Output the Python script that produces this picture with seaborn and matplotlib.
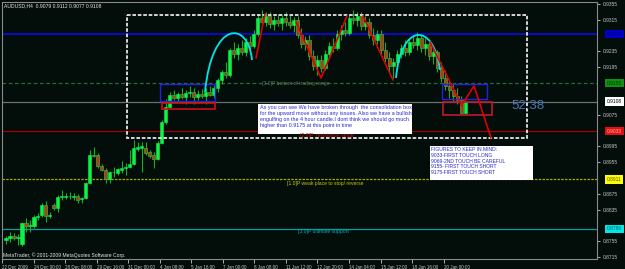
import matplotlib
matplotlib.use("Agg")
import matplotlib.pyplot as plt
import matplotlib.transforms as mtransforms
from matplotlib.patches import Rectangle, PathPatch
from matplotlib.path import Path
from matplotlib.lines import Line2D
import numpy as np
import pandas as pd
import seaborn as sns

# ---------------- data (AUDUSD H4) ----------------
opens = [0.8758, 0.8763, 0.8768, 0.8763, 0.8748, 0.8801, 0.8793, 0.8793, 0.8816, 0.8821,
         0.8847, 0.8819, 0.8847, 0.8839, 0.8867, 0.8867, 0.8869, 0.8867, 0.8869, 0.8862,
         0.8864, 0.8902, 0.8973, 0.8973, 0.8945, 0.8935, 0.8912, 0.8930, 0.8927, 0.8935,
         0.8940, 0.8943, 0.8950, 0.8988, 0.8991, 0.8991, 0.8981, 0.8973, 0.8963, 0.9003,
         0.9056, 0.9094, 0.9125, 0.9117, 0.9127, 0.9120, 0.9130, 0.9132, 0.9120, 0.9127,
         0.9122, 0.9132, 0.9125, 0.9142, 0.9163, 0.9183, 0.9175, 0.9239, 0.9229, 0.9244,
         0.9234, 0.9259, 0.9249, 0.9279, 0.9320, 0.9309, 0.9325, 0.9304, 0.9315, 0.9307,
         0.9320, 0.9309, 0.9302, 0.9315, 0.9277, 0.9254, 0.9264, 0.9223, 0.9198, 0.9213,
         0.9193, 0.9229, 0.9249, 0.9244, 0.9279, 0.9289, 0.9282, 0.9320, 0.9315, 0.9325,
         0.9299, 0.9309, 0.9277, 0.9264, 0.9279, 0.9239, 0.9218, 0.9198, 0.9208, 0.9229,
         0.9244, 0.9234, 0.9259, 0.9251, 0.9269, 0.9244, 0.9254, 0.9223, 0.9234, 0.9193,
         0.9168, 0.9148, 0.9137, 0.9122, 0.9112, 0.9079]
highs = [0.8768, 0.8778, 0.8776, 0.8773, 0.8803, 0.8814, 0.8809, 0.8821, 0.8826, 0.8852,
         0.8857, 0.8829, 0.8852, 0.8872, 0.8884, 0.8877, 0.8879, 0.8877, 0.8874, 0.8867,
         0.8905, 0.8986, 0.8993, 0.8978, 0.8950, 0.8940, 0.8933, 0.8943, 0.8940, 0.8958,
         0.8953, 0.8986, 0.9011, 0.9006, 0.9006, 0.9006, 0.8986, 0.8981, 0.9008, 0.9062,
         0.9115, 0.9132, 0.9137, 0.9132, 0.9142, 0.9137, 0.9148, 0.9142, 0.9137, 0.9140,
         0.9142, 0.9148, 0.9150, 0.9168, 0.9188, 0.9208, 0.9244, 0.9259, 0.9254, 0.9264,
         0.9269, 0.9274, 0.9289, 0.9330, 0.9340, 0.9335, 0.9335, 0.9325, 0.9330, 0.9327,
         0.9335, 0.9330, 0.9322, 0.9325, 0.9294, 0.9274, 0.9277, 0.9239, 0.9226, 0.9226,
         0.9239, 0.9259, 0.9269, 0.9289, 0.9302, 0.9309, 0.9327, 0.9340, 0.9335, 0.9335,
         0.9325, 0.9320, 0.9294, 0.9289, 0.9289, 0.9259, 0.9234, 0.9218, 0.9239, 0.9254,
         0.9264, 0.9269, 0.9277, 0.9284, 0.9279, 0.9269, 0.9264, 0.9244, 0.9239, 0.9208,
         0.9188, 0.9163, 0.9153, 0.9142, 0.9122, 0.9112]
lows = [0.8748, 0.8753, 0.8758, 0.8745, 0.8743, 0.8778, 0.8778, 0.8788, 0.8809, 0.8816,
        0.8803, 0.8814, 0.8834, 0.8829, 0.8859, 0.8862, 0.8862, 0.8859, 0.8852, 0.8852,
        0.8862, 0.8900, 0.8968, 0.8940, 0.8933, 0.8902, 0.8902, 0.8917, 0.8922, 0.8927,
        0.8922, 0.8940, 0.8948, 0.8983, 0.8930, 0.8973, 0.8965, 0.8940, 0.8960, 0.9001,
        0.9051, 0.9092, 0.9112, 0.9107, 0.9115, 0.9102, 0.9120, 0.9102, 0.9112, 0.9117,
        0.9102, 0.9122, 0.9117, 0.9132, 0.9153, 0.9168, 0.9170, 0.9218, 0.9213, 0.9226,
        0.9223, 0.9239, 0.9244, 0.9274, 0.9302, 0.9299, 0.9294, 0.9289, 0.9299, 0.9289,
        0.9299, 0.9294, 0.9284, 0.9269, 0.9244, 0.9239, 0.9213, 0.9188, 0.9175, 0.9183,
        0.9188, 0.9218, 0.9234, 0.9239, 0.9264, 0.9274, 0.9277, 0.9304, 0.9299, 0.9289,
        0.9289, 0.9269, 0.9251, 0.9254, 0.9226, 0.9208, 0.9183, 0.9168, 0.9201, 0.9218,
        0.9223, 0.9226, 0.9244, 0.9239, 0.9234, 0.9226, 0.9213, 0.9203, 0.9183, 0.9158,
        0.9137, 0.9117, 0.9107, 0.9102, 0.9077, 0.9077]
closes = [0.8763, 0.8768, 0.8763, 0.8766, 0.8801, 0.8793, 0.8796, 0.8816, 0.8819, 0.8847,
          0.8819, 0.8821, 0.8839, 0.8867, 0.8869, 0.8869, 0.8870, 0.8869, 0.8859, 0.8864,
          0.8902, 0.8973, 0.8970, 0.8945, 0.8935, 0.8912, 0.8930, 0.8931, 0.8938, 0.8940,
          0.8943, 0.8950, 0.8991, 0.8993, 0.8996, 0.8978, 0.8970, 0.8963, 0.9003, 0.9056,
          0.9094, 0.9125, 0.9117, 0.9127, 0.9120, 0.9130, 0.9132, 0.9120, 0.9127, 0.9122,
          0.9132, 0.9125, 0.9142, 0.9163, 0.9183, 0.9175, 0.9239, 0.9229, 0.9244, 0.9234,
          0.9259, 0.9249, 0.9279, 0.9320, 0.9309, 0.9325, 0.9304, 0.9315, 0.9307, 0.9320,
          0.9309, 0.9302, 0.9315, 0.9277, 0.9254, 0.9264, 0.9223, 0.9198, 0.9213, 0.9193,
          0.9229, 0.9249, 0.9244, 0.9279, 0.9289, 0.9282, 0.9320, 0.9315, 0.9325, 0.9299,
          0.9309, 0.9277, 0.9264, 0.9279, 0.9239, 0.9218, 0.9198, 0.9208, 0.9229, 0.9244,
          0.9234, 0.9259, 0.9251, 0.9269, 0.9244, 0.9254, 0.9223, 0.9234, 0.9193, 0.9168,
          0.9148, 0.9137, 0.9122, 0.9112, 0.9080, 0.9108]

date_labels = ["22 Dec 2009", "24 Dec 00:00", "28 Dec 08:00", "29 Dec 16:00", "31 Dec 00:00",
               "4 Jan 08:00", "5 Jan 16:00", "7 Jan 00:00", "8 Jan 08:00", "11 Jan 12:00",
               "12 Jan 20:00", "14 Jan 04:00", "15 Jan 12:00", "18 Jan 16:00", "20 Jan 00:00"]
date_tick_bars = [-1.0, 6.9, 14.8, 22.7, 30.6, 38.5, 46.4, 54.3, 62.2, 70.1,
                  78.0, 85.9, 93.8, 101.7, 109.6]

# scale labels that are not covered by a level label
price_ticks = [0.9355, 0.9315, 0.9235, 0.9195, 0.9075,
               0.8995, 0.8955, 0.8875, 0.8835, 0.8755, 0.8715]

level_prices = [0.9279, 0.9155, 0.9108, 0.9033, 0.8911, 0.8786]
level_labels = ["0.9279", "0.9155", "0.9108", "0.9033", "0.8911", "0.8786"]
level_line_colors = ["#0a0ad8", "#1e6e3c", "#6e6e6e", "#a80000", "#a8a800", "#00a0a0"]
level_line_styles = ["-", (0, (3, 2)), "-", "-", (0, (2, 1)), "-"]
level_box_colors = ["#0000c8", "#129012", "#ffffff", "#e01010", "#ffff00", "#00e8e8"]
level_text_colors = ["#000070", "#063806", "#000000", "#ffb0b0", "#505000", "#006060"]

note_text = ("As you can see We have broken through  the consolidation box\n"
             "for the upward move without any issues. Also we have a bullish\n"
             "engulfing on the 4 hour candle.I dont think we should go much\n"
             "higher than 0.9175 at this point in time")
figures_text = ("FIGURES TO KEEP IN MIND:\n9033-FIRST TOUCH LONG\n9069-2ND TOUCH BE CAREFUL\n"
                "9155- FIRST TOUCH SHORT\n9175-FIRST TOUCH SHORT")

# ---------------- style ----------------
BG = "#030d0a"
sns.set_theme(style="dark", rc={"axes.facecolor": BG, "figure.facecolor": BG,
                                "axes.edgecolor": "#8a8a8a", "axes.grid": False})
plt.rcParams["font.family"] = ["Liberation Sans", "DejaVu Sans"]

W, H = 625, 269
fig = plt.figure(figsize=(W / 100, H / 100), dpi=100)
ax = fig.add_axes([2 / W, 10 / H, 595 / W, 257 / H])
pxT = mtransforms.Affine2D().scale(1 / W, -1 / H).translate(0, 1) + fig.transFigure

df = pd.DataFrame({"open": opens, "high": highs, "low": lows, "close": closes})
df["bar"] = np.arange(len(df))
df["bottom"] = df[["open", "close"]].min(axis=1)
df["height"] = (df["close"] - df["open"]).abs().clip(lower=0.00008)
df["bull"] = df["close"] >= df["open"]

# level lines (behind candles)
for p, c, ls in zip(level_prices, level_line_colors, level_line_styles):
    ax.axhline(p, color=c, lw=1.3 if c == "#0a0ad8" else 0.9, ls=ls, zorder=1)

# wicks
ax.vlines(df["bar"], df["low"], df["high"], color="#14b02a", lw=0.8, zorder=2)

# bodies via seaborn
bull = df[df["bull"]]
bear = df[~df["bull"]]
sns.barplot(data=bull, x="bar", y="height", bottom=bull["bottom"].to_numpy(), native_scale=True,
            width=0.78, color="#12f048", edgecolor="#12f048", linewidth=0.4, saturation=1,
            errorbar=None, ax=ax, zorder=3)
sns.barplot(data=bear, x="bar", y="height", bottom=bear["bottom"].to_numpy(), native_scale=True,
            width=0.78, color="#d42a18", edgecolor="#18c038", linewidth=0.5, saturation=1,
            errorbar=None, ax=ax, zorder=3)

ax.set_xlim(-0.75, 148)
ax.set_ylim(0.87098, 0.93600)
ax.set_xlabel("")
ax.set_ylabel("")
ax.yaxis.tick_right()
ax.set_yticks(price_ticks)
ax.set_yticklabels([f"{p:.4f}" for p in price_ticks])
ax.set_xticks(date_tick_bars)
ax.set_xticklabels(date_labels, ha="left")
ax.tick_params(axis="y", which="both", direction="out", length=2.5, width=0.6, pad=1.5,
               labelsize=3.5, colors="#c8c8c8", right=True, left=False)
ax.tick_params(axis="x", which="both", direction="out", length=3, width=0.6, pad=1,
               labelsize=3.25, colors="#c8c8c8", bottom=True)
for s in ax.spines.values():
    s.set_color("#8a8a8a")
    s.set_linewidth(0.8)

# ---------------- drawn objects (pixel geometry) ----------------
def seg(xs, ys, color, lw=1.2, ls="-"):
    fig.add_artist(Line2D(xs, ys, transform=pxT, color=color, lw=lw, ls=ls))

def rect(x0, y0, x1, y1, color, lw=1.0, ls="-", fc="none"):
    fig.add_artist(Rectangle((x0, y0), x1 - x0, y1 - y0, transform=pxT, fill=(fc != "none"),
                             facecolor=fc, edgecolor=color, lw=lw, ls=ls))

def curve(pts, color, lw=1.3):
    path = Path(pts, [Path.MOVETO, Path.CURVE4, Path.CURVE4, Path.CURVE4])
    fig.add_artist(PathPatch(path, transform=pxT, fill=False, edgecolor=color, lw=lw))

rect(127, 15, 527, 138, "#e6e6e6", lw=1.3, ls=(0, (2, 1)))
rect(160, 84, 215, 101, "#2222e0", lw=1.0)
rect(162, 103, 215, 109, "#d01010", lw=1.2)
rect(442, 84, 487, 99, "#2222e0", lw=1.0)
rect(443, 102, 492, 115, "#c01830", lw=1.2)

curve([(205, 92), (212, 20), (248, 20), (252, 60)], "#00e6e6")
curve([(396, 78), (401, 22), (434, 22), (440, 70)], "#00e6e6")
red = "#e00000"
seg([256, 265], [58, 14], red)
seg([296, 321, 347], [22, 78, 16], red)
seg([363, 393], [16, 80], red)
seg([430, 462], [42, 106], red)
seg([463, 474, 491], [103, 86, 138], red)

# notes
fig.text(262 / W, 1 - 84 / H, "[3.0]P bottom of trading range", color="#5f7a52", fontsize=3.6,
         va="center", ha="left")
fig.text(300 / W, 1 - 136 / H, "[2.0]P  resistance range", color="#c01010", fontsize=3.6,
         va="center", ha="left")
rect(258, 104, 412, 134, "white", lw=0, fc="white")
fig.text(260 / W, 1 - 105 / H, note_text, color="#2828d0", fontsize=3.9, va="top", ha="left",
         linespacing=1.25)
rect(430, 146, 533, 180, "white", lw=0, fc="white")
fig.text(431 / W, 1 - 147 / H, figures_text, color="#2828c8", fontsize=3.6, va="top", ha="left",
         linespacing=1.2)
fig.text(528 / W, 1 - 106 / H, "52.38", color="#4a78b8", fontsize=9.5, va="center", ha="center")
fig.text(287 / W, 1 - 183 / H, "[1.0]P weak place to stop/ reverse", color="#c8c800", fontsize=3.6,
         va="center", ha="left")
fig.text(298 / W, 1 - 232 / H, "[3.0]P ultimate support", color="#00b4b4", fontsize=3.6,
         va="center", ha="left")
fig.text(4 / W, 1 - 6 / H, "AUDUSD,H4  0.9079 0.9112 0.9077 0.9108", color="#e8e8e8",
         fontsize=3.6, va="center", ha="left")
fig.text(3 / W, 1 - 255 / H, "MetaTrader, \u00a9 2001-2009 MetaQuotes Software Corp.",
         color="#e8e8e8", fontsize=3.6, va="center", ha="left")

# price labels on the right scale
for p, lab, bc, tc in zip(level_prices, level_labels, level_box_colors, level_text_colors):
    y = (0.93651 - p) / 0.000253
    fig.text(607 / W, 1 - y / H, lab, color=tc, fontsize=3.5, va="center", ha="left",
             bbox=dict(boxstyle="square,pad=0.35", fc=bc, ec="none"))

fig.savefig("out.png", dpi=100, facecolor=BG)
